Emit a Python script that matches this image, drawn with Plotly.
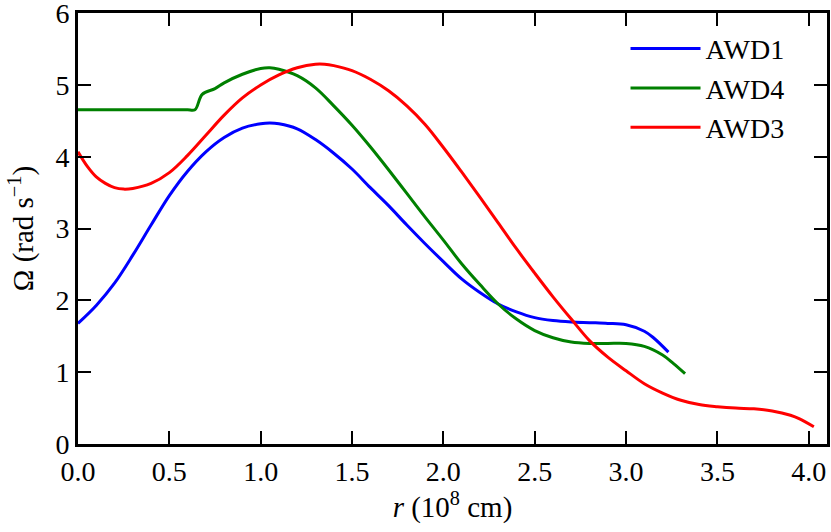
import plotly.graph_objects as go

# AWD1 (blue)
awd1_r = [0.0, 0.1, 0.2, 0.3, 0.4, 0.5, 0.6, 0.7, 0.8, 0.9, 1.0, 1.05, 1.1, 1.2, 1.3, 1.4, 1.5, 1.6,
          1.7, 1.8, 1.9, 2.0, 2.1, 2.2, 2.3, 2.4, 2.5, 2.6, 2.7, 2.8, 2.9, 3.0, 3.1, 3.15, 3.232]
awd1_omega = [1.68, 1.93, 2.24, 2.63, 3.05, 3.46, 3.80, 4.07, 4.27, 4.40, 4.46, 4.47, 4.46, 4.39, 4.24,
              4.05, 3.83, 3.57, 3.32, 3.05, 2.79, 2.54, 2.30, 2.11, 1.95, 1.84, 1.76, 1.72, 1.70, 1.69,
              1.68, 1.66, 1.57, 1.48, 1.28]

# AWD4 (green)
awd4_r = [0.0, 0.2, 0.4, 0.55, 0.6, 0.64, 0.68, 0.75, 0.8, 0.9, 1.0, 1.05, 1.1, 1.2, 1.3, 1.4, 1.5,
          1.6, 1.7, 1.8, 1.9, 2.0, 2.1, 2.2, 2.3, 2.4, 2.5, 2.6, 2.7, 2.8, 2.9, 3.0, 3.1, 3.2, 3.26, 3.323]
awd4_omega = [4.655, 4.655, 4.655, 4.655, 4.655, 4.655, 4.87, 4.95, 5.03, 5.15, 5.23, 5.24, 5.22, 5.13,
              4.96, 4.71, 4.44, 4.14, 3.82, 3.49, 3.16, 2.84, 2.51, 2.22, 1.95, 1.74, 1.58, 1.48, 1.42,
              1.40, 1.40, 1.40, 1.36, 1.24, 1.12, 0.98]

# AWD3 (red)
awd3_r = [0.0, 0.05, 0.1, 0.15, 0.2, 0.25, 0.3, 0.4, 0.5, 0.6, 0.7, 0.8, 0.9, 1.0, 1.1, 1.2, 1.3, 1.35,
          1.4, 1.5, 1.6, 1.7, 1.8, 1.9, 2.0, 2.1, 2.2, 2.3, 2.4, 2.5, 2.6, 2.7, 2.8, 2.9, 3.0, 3.1, 3.2,
          3.3, 3.4, 3.5, 3.6, 3.7, 3.8, 3.9, 3.95, 4.028]
awd3_omega = [4.07, 3.87, 3.72, 3.63, 3.57, 3.55, 3.56, 3.63, 3.78, 4.02, 4.30, 4.58, 4.82, 5.00, 5.14,
              5.24, 5.29, 5.29, 5.27, 5.20, 5.08, 4.92, 4.71, 4.45, 4.13, 3.79, 3.44, 3.08, 2.72, 2.38,
              2.05, 1.74, 1.44, 1.21, 1.02, 0.84, 0.71, 0.61, 0.55, 0.52, 0.50, 0.49, 0.46, 0.40, 0.35,
              0.24]

x_ticks = [0.0, 0.5, 1.0, 1.5, 2.0, 2.5, 3.0, 3.5, 4.0]
y_ticks = [0, 1, 2, 3, 4, 5, 6]

FONT = "Liberation Serif"

fig = go.Figure()
for name, rr, om, col in [
    ("AWD1", awd1_r, awd1_omega, "#0000ff"),
    ("AWD4", awd4_r, awd4_omega, "#008000"),
    ("AWD3", awd3_r, awd3_omega, "#ff0000"),
]:
    fig.add_trace(go.Scatter(x=rr, y=om, mode="lines", name=name,
                             line=dict(color=col, width=3, shape="spline", smoothing=1.0)))

axis_common = dict(
    showgrid=False, zeroline=False, showline=True, linecolor="black", linewidth=3,
    mirror="allticks", ticks="inside", ticklen=13, tickwidth=2, tickcolor="black",
    tickfont=dict(family=FONT, size=28, color="black"), automargin=False,
    ticklabeloverflow="allow",
)

fig.update_layout(
    width=831, height=532,
    margin=dict(l=78, r=4, t=13, b=88),
    paper_bgcolor="white", plot_bgcolor="white",
    font=dict(family=FONT, color="black"),
    showlegend=True,
    legend=dict(x=0.731, y=0.975, xanchor="left", yanchor="top",
                bgcolor="rgba(0,0,0,0)", borderwidth=0,
                font=dict(family=FONT, size=28, color="black"),
                itemwidth=70, tracegroupgap=0),
    xaxis=dict(range=[0, 4.1], tickmode="linear", tick0=0, dtick=0.5, tickformat=".1f",
               title=dict(text="<i>r</i> (10<sup>8</sup> cm)", font=dict(family=FONT, size=29), standoff=12),
               **axis_common),
    yaxis=dict(range=[0, 6.003], tickmode="linear", tick0=0, dtick=1,
               title=dict(text="Ω (rad s<sup>−1</sup>)", font=dict(family=FONT, size=29), standoff=14),
               **axis_common),
)

fig.write_html("out.html", config={"displayModeBar": False},
               post_script="document.body.style.margin='0';")
